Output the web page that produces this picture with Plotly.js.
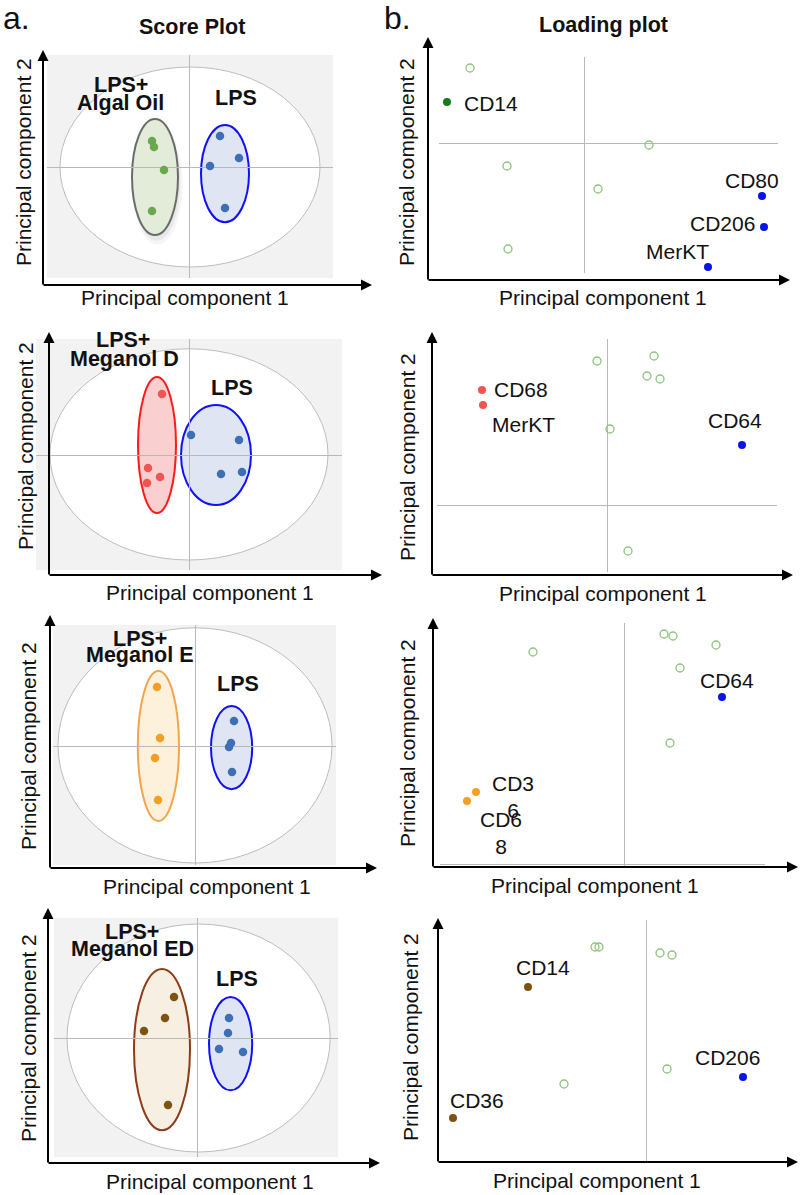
<!DOCTYPE html>
<html><head><meta charset="utf-8">
<script src="https://cdn.plot.ly/plotly-3.0.1.min.js"></script>
<style>html,body{margin:0;padding:0;background:#fff}#chart{width:800px;height:1195px}</style>
</head><body><div id="chart"></div>
<script>
// ================= DATA =================
// --- Score plots (panel a): PC1/PC2 scores, arbitrary units ---
const algalPC1 = [-1.85, -1.75, -1.25, -1.85];
const algalPC2 = [1.30, 1.00, -0.15, -2.20];
const lps1PC1  = [1.55, 2.50, 1.05, 1.80];
const lps1PC2  = [1.55, 0.45, 0.05, -2.05];

const megDPC1  = [-1.35, -2.05, -1.45, -2.10];
const megDPC2  = [3.05, -0.65, -1.10, -1.40];
const lps2PC1  = [0.10, 2.50, 1.60, 2.65];
const lps2PC2  = [1.00, 0.75, -0.95, -0.85];

const megEPC1  = [-1.90, -1.75, -2.00, -1.85];
const megEPC2  = [2.95, 0.40, -0.60, -2.70];
const lps3PC1  = [1.95, 1.80, 1.70, 1.85];
const lps3PC2  = [1.25, 0.15, -0.05, -1.30];

const megEDPC1 = [-1.15, -1.60, -2.65, -1.45];
const megEDPC2 = [2.05, 1.00, 0.35, -3.35];
const lps4PC1  = [1.60, 1.55, 1.10, 2.30];
const lps4PC2  = [1.00, 0.25, -0.55, -0.70];

// ellipses: [centre PC1, centre PC2, radius PC1, radius PC2]
const a1Hotelling = [0.05, 0.00, 6.50, 5.00];
const a1Treated   = [-1.70, -0.50, 1.15, 2.90];
const a1Lps       = [1.80, -0.33, 1.20, 2.43];
const a2Hotelling = [0.00, 0.03, 6.95, 5.28];
const a2Treated   = [-1.60, 0.50, 0.95, 3.40];
const a2Lps       = [1.35, 0.00, 1.75, 2.50];
const a3Hotelling = [0.00, 0.03, 6.85, 5.88];
const a3Treated   = [-1.83, 0.00, 1.03, 3.75];
const a3Lps       = [1.83, -0.08, 1.03, 2.08];
const a4Hotelling = [0.08, 0.00, 6.58, 5.70];
const a4Treated   = [-1.75, -0.58, 1.40, 4.03];
const a4Lps       = [1.68, -0.28, 1.08, 2.33];

const groupNames = ['Algal Oil', 'Meganol D', 'Meganol E', 'Meganol ED'];

// --- Loading plots (panel b) ---
const b1Names = ['CD14', 'CD80', 'CD206', 'MerKT'];
const b1PC1   = [-0.685, 0.89, 0.90, 0.62];
const b1PC2   = [0.205, -0.265, -0.42, -0.62];
const b1OtherPC1 = [-0.57, -0.385, -0.38, 0.07, 0.325];
const b1OtherPC2 = [0.375, -0.115, -0.53, -0.23, -0.01];

const b2Names = ['CD68', 'MerKT', 'CD64'];
const b2PC1   = [-0.625, -0.62, 0.675];
const b2PC2   = [0.575, 0.50, 0.30];
const b2OtherPC1 = [-0.05, 0.235, 0.20, 0.265, 0.015, 0.105];
const b2OtherPC2 = [0.72, 0.745, 0.645, 0.63, 0.38, -0.23];

const b3Names = ['CD36', 'CD68', 'CD64'];
const b3PC1   = [-0.74, -0.785, 0.49];
const b3PC2   = [0.36, 0.315, 0.835];
const b3OtherPC1 = [-0.455, 0.20, 0.245, 0.46, 0.28, 0.23];
const b3OtherPC2 = [1.06, 1.15, 1.14, 1.095, 0.98, 0.605];

const b4Names = ['CD14', 'CD36', 'CD206'];
const b4PC1   = [-0.59, -0.965, 0.485];
const b4PC2   = [0.87, 0.215, 0.42];
const b4OtherPC1 = [-0.255, -0.235, 0.07, 0.13, -0.41, 0.105];
const b4OtherPC2 = [1.07, 1.07, 1.04, 1.03, 0.385, 0.46];

// ================= STYLE / LAYOUT CONFIG =================
const FONT = 'Liberation Sans, Arial, Helvetica, sans-serif';
const W = 800, H = 1195;
const px = v => v / W;
const py = v => 1 - v / H;

// plot frames in pixels: [left, top, right, bottom, crossX, crossY, px per unit]
const frames = {
  a1: [47, 55, 333, 278, 189, 167, 20],
  b1: [439, 57, 778, 273, 584, 143, 200],
  a2: [36, 339, 342, 570, 189, 455, 20],
  b2: [437, 339, 777, 572, 607, 505, 200],
  a3: [53, 625, 336, 865, 195, 746, 20],
  b3: [440, 623, 765, 866, 624, 864, 200],
  a4: [54, 918, 338, 1157, 197, 1038, 20],
  b4: [440, 920, 780, 1162, 646, 1161, 200]
};
const order = ['a1', 'b1', 'a2', 'b2', 'a3', 'b3', 'a4', 'b4'];
// axis arrows: [originX, originY, yTip, xTip]
const arrows = {
  a1: [43, 285, 50, 372], b1: [428, 280, 37, 790],
  a2: [49, 575, 332, 382], b2: [432, 575, 332, 793],
  a3: [50, 868, 615, 377], b3: [433, 867, 618, 798],
  a4: [48, 1163, 908, 380], b4: [438, 1162, 918, 798]
};
// axis titles: [xTitleX, xTitleY, yTitleX, yTitleY]
const axTitles = {
  a1: [185, 297, 24, 162], b1: [603, 297, 407, 162],
  a2: [210, 592, 26, 446], b2: [603, 593, 408, 457],
  a3: [207, 886, 28, 746], b3: [595, 885, 407, 743],
  a4: [210, 1181, 28, 1038], b4: [597, 1180, 410, 1037]
};
// group label positions: [line1 x,y, line2 x,y, LPS x,y]
const groupLabelPos = {
  a1: [121, 85, 120, 103, 236, 98],
  a2: [123, 340, 124, 359, 232, 388],
  a3: [140, 639, 140, 655, 238, 684],
  a4: [132, 932, 132, 949, 237, 979]
};
const styles = {
  algal: {pt: '#6aa84f', fill: '#e3ebd9', line: '#6b6b6b', shadow: true},
  megD:  {pt: '#f25454', fill: '#f9cfcf', line: '#ff1a1a'},
  megE:  {pt: '#f2a024', fill: '#fdf1dc', line: '#f2a54a'},
  megED: {pt: '#7d5314', fill: '#f7efe1', line: '#8e3b17'},
  lps:   {pt: '#3d6fb6', fill: '#dfe5f3', line: '#1010ff'}
};

const scorePanels = [
  {key: 'a1', tx: algalPC1, ty: algalPC2, lx: lps1PC1, ly: lps1PC2, hot: a1Hotelling, te: a1Treated, le: a1Lps, st: styles.algal, name: groupNames[0]},
  {key: 'a2', tx: megDPC1, ty: megDPC2, lx: lps2PC1, ly: lps2PC2, hot: a2Hotelling, te: a2Treated, le: a2Lps, st: styles.megD, name: groupNames[1]},
  {key: 'a3', tx: megEPC1, ty: megEPC2, lx: lps3PC1, ly: lps3PC2, hot: a3Hotelling, te: a3Treated, le: a3Lps, st: styles.megE, name: groupNames[2]},
  {key: 'a4', tx: megEDPC1, ty: megEDPC2, lx: lps4PC1, ly: lps4PC2, hot: a4Hotelling, te: a4Treated, le: a4Lps, st: styles.megED, name: groupNames[3]}
];

const BLUE = '#0a14e6';
const loadPanels = [
  {key: 'b1', names: b1Names, x: b1PC1, y: b1PC2, ox: b1OtherPC1, oy: b1OtherPC2,
   colors: ['#1c7a1c', BLUE, BLUE, BLUE],
   lab: [['left', 15, -2], ['center', -10, 15], ['right', -7, 3], ['center', -31, 16]], wrap: false},
  {key: 'b2', names: b2Names, x: b2PC1, y: b2PC2, ox: b2OtherPC1, oy: b2OtherPC2,
   colors: ['#f25454', '#f25454', BLUE],
   lab: [['left', 10, 0], ['left', 7, -20], ['center', -7, 24]], wrap: false},
  {key: 'b3', names: b3Names, x: b3PC1, y: b3PC2, ox: b3OtherPC1, oy: b3OtherPC2,
   colors: ['#f2a024', '#f2a024', BLUE],
   lab: [['center', 37, -5], ['center', 34, -32], ['center', 5, 16]], wrap: [true, true, false]},
  {key: 'b4', names: b4Names, x: b4PC1, y: b4PC2, ox: b4OtherPC1, oy: b4OtherPC2,
   colors: ['#7d5314', '#7d5314', BLUE],
   lab: [['center', 15, 20], ['center', 24, 18], ['center', -16, 20]], wrap: false}
];

// ================= BUILD =================
const layout = {
  width: W, height: H, autosize: false,
  margin: {l: 0, r: 0, t: 0, b: 0, pad: 0},
  paper_bgcolor: '#ffffff', plot_bgcolor: 'rgba(0,0,0,0)',
  showlegend: false, font: {family: FONT, color: '#111'},
  shapes: [], annotations: []
};
const traces = [];
const ids = {};
order.forEach((k, i) => {
  const n = i === 0 ? '' : String(i + 1);
  ids[k] = {x: 'x' + n, y: 'y' + n};
  const f = frames[k];
  const common = {showgrid: false, showline: false, showticklabels: false, ticks: '',
    zeroline: true, zerolinecolor: '#b9b9b9', zerolinewidth: 1, fixedrange: true};
  layout['xaxis' + n] = Object.assign({}, common, {
    domain: [f[0] / W, f[2] / W], range: [(f[0] - f[4]) / f[6], (f[2] - f[4]) / f[6]], anchor: 'y' + n});
  layout['yaxis' + n] = Object.assign({}, common, {
    domain: [1 - f[3] / H, 1 - f[1] / H], range: [(f[5] - f[3]) / f[6], (f[5] - f[1]) / f[6]], anchor: 'x' + n});

  // axis arrows
  const a = arrows[k];
  layout.annotations.push({xref: 'paper', yref: 'paper', x: px(a[0]), y: py(a[2]), ax: 0, ay: a[1] - a[2] + 1,
    text: '', showarrow: true, arrowhead: 2, arrowsize: 1.1, arrowwidth: 2, arrowcolor: '#000'});
  layout.annotations.push({xref: 'paper', yref: 'paper', x: px(a[3]), y: py(a[1]), ax: -(a[3] - a[0] + 1), ay: 0,
    text: '', showarrow: true, arrowhead: 2, arrowsize: 1.1, arrowwidth: 2, arrowcolor: '#000'});
  // axis titles
  const t = axTitles[k];
  layout.annotations.push({xref: 'paper', yref: 'paper', x: px(t[0]), y: py(t[1]), xanchor: 'center', yanchor: 'middle',
    text: 'Principal component 1', showarrow: false, font: {family: FONT, size: 21, color: '#111'}});
  layout.annotations.push({xref: 'paper', yref: 'paper', x: px(t[2]), y: py(t[3]), xanchor: 'center', yanchor: 'middle',
    text: 'Principal component 2', textangle: -90, showarrow: false, font: {family: FONT, size: 21, color: '#111'}});
});

function ell(e, xr, yr, fill, line, lw, dx, dy, grow) {
  dx = dx || 0; dy = dy || 0; grow = grow || 0;
  return {type: 'circle', xref: xr, yref: yr,
    x0: e[0] + dx - e[2] - grow, x1: e[0] + dx + e[2] + grow,
    y0: e[1] + dy - e[3] - grow, y1: e[1] + dy + e[3] + grow,
    fillcolor: fill, line: {color: line, width: lw}, layer: 'below'};
}

scorePanels.forEach(p => {
  const id = ids[p.key];
  layout.shapes.push({type: 'rect', xref: id.x + ' domain', yref: id.y + ' domain', x0: 0, x1: 1, y0: 0, y1: 1,
    fillcolor: '#f2f2f2', line: {width: 0}, layer: 'below'});
  layout.shapes.push(ell(p.hot, id.x, id.y, '#ffffff', '#bdbdbd', 1));
  if (p.st.shadow) {
    // soft drop shadow beneath the group ellipse
    layout.shapes.push(ell(p.te, id.x, id.y, 'rgba(0,0,0,0.04)', 'rgba(0,0,0,0)', 0, 0.12, -0.35, 0.12));
    layout.shapes.push(ell(p.te, id.x, id.y, 'rgba(0,0,0,0.05)', 'rgba(0,0,0,0)', 0, 0.08, -0.25, 0.04));
  }
  layout.shapes.push(ell(p.te, id.x, id.y, p.st.fill, p.st.line, 2));
  layout.shapes.push(ell(p.le, id.x, id.y, styles.lps.fill, styles.lps.line, 2));
  traces.push({type: 'scatter', mode: 'markers', x: p.tx, y: p.ty, xaxis: id.x, yaxis: id.y,
    marker: {size: 8.5, color: p.st.pt}, cliponaxis: false, hoverinfo: 'skip'});
  traces.push({type: 'scatter', mode: 'markers', x: p.lx, y: p.ly, xaxis: id.x, yaxis: id.y,
    marker: {size: 8.5, color: styles.lps.pt}, cliponaxis: false, hoverinfo: 'skip'});
  const g = groupLabelPos[p.key];
  const bold = {family: FONT, size: 21.5, color: '#111', weight: 'bold'};
  layout.annotations.push({xref: 'paper', yref: 'paper', x: px(g[0]), y: py(g[1]), text: '<b>LPS+</b>', showarrow: false, xanchor: 'center', yanchor: 'middle', font: bold});
  layout.annotations.push({xref: 'paper', yref: 'paper', x: px(g[2]), y: py(g[3]), text: '<b>' + p.name + '</b>', showarrow: false, xanchor: 'center', yanchor: 'middle', font: bold});
  layout.annotations.push({xref: 'paper', yref: 'paper', x: px(g[4]), y: py(g[5]), text: '<b>LPS</b>', showarrow: false, xanchor: 'center', yanchor: 'middle', font: bold});
});

loadPanels.forEach(p => {
  const id = ids[p.key];
  traces.push({type: 'scatter', mode: 'markers', x: p.ox, y: p.oy, xaxis: id.x, yaxis: id.y,
    marker: {size: 8, symbol: 'circle-open', color: '#8cc47a', line: {width: 1.3}}, cliponaxis: false, hoverinfo: 'skip'});
  traces.push({type: 'scatter', mode: 'markers', x: p.x, y: p.y, xaxis: id.x, yaxis: id.y,
    marker: {size: 8, color: p.colors}, cliponaxis: false, hoverinfo: 'skip'});
  p.names.forEach((nm, j) => {
    const l = p.lab[j];
    const txt = (p.wrap && p.wrap[j]) ? nm.slice(0, 3) + '<br>' + nm.slice(3) : nm;
    layout.annotations.push({xref: id.x, yref: id.y, x: p.x[j], y: p.y[j], text: txt, showarrow: false,
      xanchor: l[0], yanchor: 'middle', xshift: l[1], yshift: l[2], align: 'center',
      font: {family: FONT, size: 21, color: '#111'}});
  });
});

// panel letters and column titles
layout.annotations.push({xref: 'paper', yref: 'paper', x: px(1), y: py(18), xanchor: 'left', yanchor: 'middle', text: 'a.', showarrow: false, font: {family: FONT, size: 32, color: '#111'}});
layout.annotations.push({xref: 'paper', yref: 'paper', x: px(382), y: py(18), xanchor: 'left', yanchor: 'middle', text: 'b.', showarrow: false, font: {family: FONT, size: 32, color: '#111'}});
layout.annotations.push({xref: 'paper', yref: 'paper', x: px(192), y: py(27), xanchor: 'center', yanchor: 'middle', text: '<b>Score Plot</b>', showarrow: false, font: {family: FONT, size: 21.5, color: '#111'}});
layout.annotations.push({xref: 'paper', yref: 'paper', x: px(603), y: py(25), xanchor: 'center', yanchor: 'middle', text: '<b>Loading plot</b>', showarrow: false, font: {family: FONT, size: 21.5, color: '#111'}});

Plotly.newPlot('chart', traces, layout, {displayModeBar: false, staticPlot: true});
</script>
</body></html>
